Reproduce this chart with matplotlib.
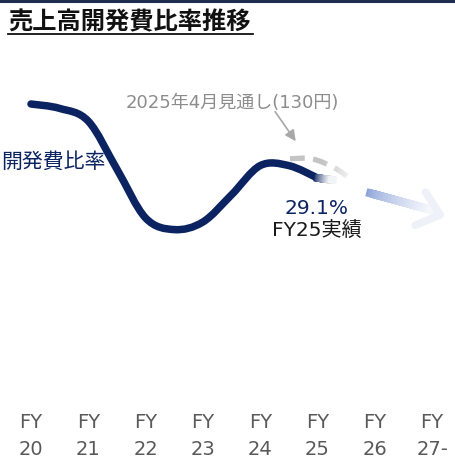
import numpy as np
import matplotlib
matplotlib.use('Agg')
import matplotlib.pyplot as plt
from matplotlib.path import Path
from matplotlib.patches import PathPatch
from matplotlib.collections import LineCollection
from matplotlib.lines import Line2D
from matplotlib.colors import to_rgb

plt.rcParams['font.family'] = ['DejaVu Sans', 'Noto Sans CJK JP']

fy_top = ['FY'] * 8
fy_bottom = ['20', '21', '22', '23', '24', '25', '26', '27-']
period = [0, 0.5, 1, 1.5, 2, 2.5, 3, 3.5, 4, 4.5, 5]
ratio = [38.35, 37.8, 36.2, 30.2, 24.1, 22.65, 23.6, 27.0, 30.65, 30.65, 29.1]
forecast_x = [4.52, 4.90, 5.29, 5.60]                   # Apr-2025 outlook (dashed)
forecast_y = [31.5, 31.5, 30.4, 28.9]
trend_x = [5.92, 7.14]                                  # FY26- direction arrow
trend_y = [27.2, 24.5]

navy = '#0b2361'
grey_txt = '#8c8c8c'
label_col = '#595959'

# layout: pixels per unit on each axis
PX_X = 57.3
PX_Y = 8.0
W, H = 456, 469


def smooth_path(xs, ys, k=1.0):
    pts = np.column_stack([xs, ys]).astype(float)
    n = len(pts)
    verts = [pts[0]]
    codes = [Path.MOVETO]
    for i in range(n - 1):
        p0 = pts[i - 1] if i > 0 else pts[i]
        p1 = pts[i]
        p2 = pts[i + 1]
        p3 = pts[i + 2] if i + 2 < n else pts[i + 1]
        verts += [p1 + k * (p2 - p0) / 6, p2 - k * (p3 - p1) / 6, p2]
        codes += [Path.CURVE4] * 3
    return Path(verts, codes)


def gradient_line(ax, x0, y0, x1, y1, c0, c1, lw, z, n=40):
    xs = np.linspace(x0, x1, n + 1)
    ys = np.linspace(y0, y1, n + 1)
    segs = [[(xs[k], ys[k]), (xs[k + 1], ys[k + 1])] for k in range(n)]
    a, b = np.array(to_rgb(c0)), np.array(to_rgb(c1))
    cols = [a + (b - a) * (k / (n - 1)) ** 0.7 for k in range(n)]
    lc = LineCollection(segs, colors=cols, linewidths=lw, capstyle='projecting', zorder=z)
    ax.add_collection(lc)


fig = plt.figure(figsize=(W / 100, H / 100), dpi=100)
ax = fig.add_axes([0, 0, 1, 1])
ax.axis('off')

x0_px, y0_px = 31, 178   # FY20 column / FY25 value pixel anchors
xlim = (-x0_px / PX_X, (W - x0_px) / PX_X)
ylim = (ratio[-1] - (H - y0_px) / PX_Y, ratio[-1] + y0_px / PX_Y)

# forecast dashed line
fc = smooth_path(forecast_x, forecast_y)
ax.add_patch(PathPatch(fc, fill=False, edgecolor='#c4c4c4', lw=3.8,
                       linestyle=(0, (2.8, 1.6)), zorder=2))
# fade its tail
grad = np.ones((2, 100, 4))
grad[..., 3] = np.clip(np.linspace(0, 1.1, 100), 0, 0.92)
ax.imshow(grad, extent=(5.08, 5.75, 27.0, 33.0), aspect='auto', zorder=3,
          interpolation='bilinear')

# actual line
ax.add_patch(PathPatch(smooth_path(period, ratio), fill=False, edgecolor=navy,
                       lw=5.4, capstyle='round', joinstyle='round', zorder=4))
# faded end of the actual line
dx, dy = 1.0, (ratio[-1] - ratio[-2]) / (period[-1] - period[-2]) * 0.3
gradient_line(ax, period[-1], ratio[-1], period[-1] + 0.27 * dx, ratio[-1] + 0.27 * dy,
              navy, '#f2f4f8', 5.4, 5, n=20)

# trend arrow (gradient shaft + open head)
gradient_line(ax, trend_x[0], trend_y[0], trend_x[1] - 0.12, trend_y[1] + 0.55,
              '#8ba2d8', '#f5f7fc', 5.8, 4)
tip = np.array([trend_x[1], trend_y[1]])
d = np.array([(trend_x[1] - trend_x[0]) * PX_X, -(trend_y[1] - trend_y[0]) * PX_Y])
d = d / np.hypot(*d)
for sgn in (1, -1):
    ang = np.deg2rad(sgn * 40)
    rot = np.array([[np.cos(ang), -np.sin(ang)], [np.sin(ang), np.cos(ang)]])
    arm = rot @ (-d) * 27
    end = tip + np.array([arm[0] / PX_X, -arm[1] / PX_Y])
    ax.plot([end[0], tip[0]], [end[1], tip[1]], color='#eef1f8', lw=5.5,
            solid_capstyle='round', zorder=4)

# annotation for the outlook
ax.text(3.51, 38.5, '2025年4月見通し(130円)', color=grey_txt, fontsize=13,
        ha='center', va='center', zorder=6)
ax.annotate('', xy=(4.62, 33.7), xytext=(4.26, 37.4),
            arrowprops=dict(arrowstyle='-|>', color='#a8a8a8', lw=1.2,
                            mutation_scale=16, shrinkA=0, shrinkB=0), zorder=6)

ax.text(106 / PX_X - x0_px / PX_X, ratio[-1] + (y0_px - 162) / PX_Y, '開発費比率',
        color=navy, fontsize=15, family=['Noto Sans CJK JP'], ha='right',
        va='center', zorder=6)
ax.text(4.99, 25.35, '29.1%', color=navy, fontsize=14.5, ha='center', va='center', zorder=6)
ax.text(4.99, 22.55, 'FY25実績', color='#1a1a1a', fontsize=14.5, ha='center',
        va='center', zorder=6)

for i in range(len(fy_bottom)):
    ax.text(i, ratio[-1] - (422 - y0_px) / PX_Y, fy_top[i], color=label_col,
            fontsize=14, ha='center', va='center')
    ax.text(i, ratio[-1] - (449 - y0_px) / PX_Y, fy_bottom[i], color=label_col,
            fontsize=14, ha='center', va='center')

ax.set_xlim(*xlim)
ax.set_ylim(*ylim)

# title, underline, top rule
fig.text(8 / W, 1 - 22 / H, '売上高開発費比率推移', family=['Noto Sans CJK JP'],
         fontweight='bold', fontsize=17.5, color='#111111', ha='left', va='center')
fig.add_artist(Line2D([8 / W, 253 / W], [1 - 34 / H, 1 - 34 / H], color='#111111', lw=1.3))
fig.add_artist(Line2D([0, 1], [1 - 1 / H, 1 - 1 / H], color='#1f2d50', lw=2.2))

fig.savefig('out.png', dpi=100)
